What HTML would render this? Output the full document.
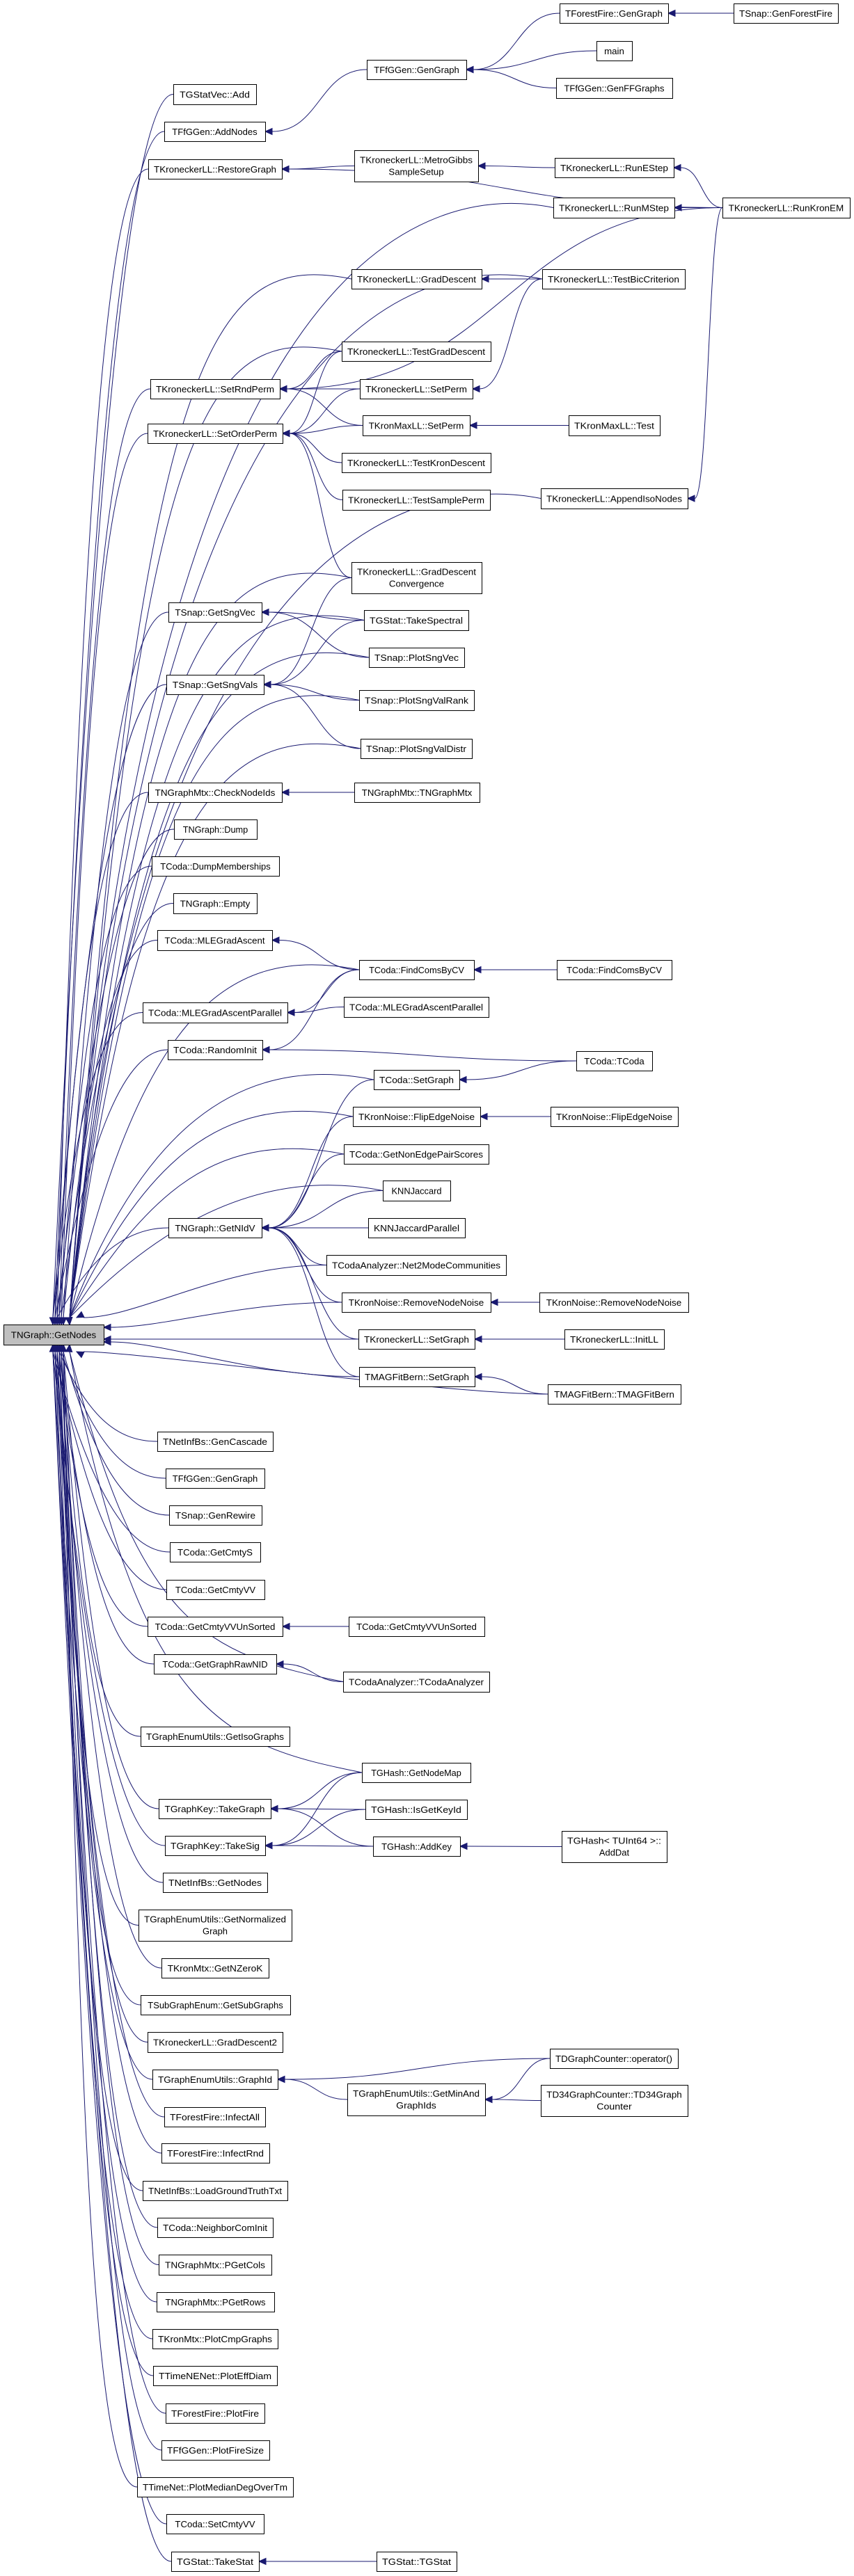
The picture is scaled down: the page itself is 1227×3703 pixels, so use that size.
<!DOCTYPE html>
<html><head><meta charset="utf-8"><style>
html,body{margin:0;padding:0;background:#fff;}
svg{display:block;}
text{font-family:"Liberation Sans",Arial,sans-serif;font-size:13px;fill:#000;}
</style></head><body>
<svg id="g" width="1227" height="3703" viewBox="0 0 1227 3703" xmlns="http://www.w3.org/2000/svg"></svg>
<script>
var B={
GN:[5,1904,149,1933,"TNGraph::GetNodes"],
FFGG:[804,5,960,33,"TForestFire::GenGraph"],
SGFF:[1054,5,1204,33,"TSnap::GenForestFire"],
MAIN:[857,59,908,87,"main"],
FGG:[527,86,670,114,"TFfGGen::GenGraph"],
GFF:[799,112,966,141,"TFfGGen::GenFFGraphs"],
ADD:[249,121,368,150,"TGStatVec::Add"],
ADN:[236,175,381,203,"TFfGGen::AddNodes"],
RG:[213,229,405,257,"TKroneckerLL::RestoreGraph"],
MG:[509,216,687,261,"TKroneckerLL::MetroGibbs|SampleSetup"],
RE:[797,227,968,255,"TKroneckerLL::RunEStep"],
RM:[795,284,969,313,"TKroneckerLL::RunMStep"],
RK:[1038,284,1221,313,"TKroneckerLL::RunKronEM"],
GD:[505,387,692,415,"TKroneckerLL::GradDescent"],
TBC:[779,387,984,415,"TKroneckerLL::TestBicCriterion"],
TGD:[491,491,705,519,"TKroneckerLL::TestGradDescent"],
SRP:[216,545,402,573,"TKroneckerLL::SetRndPerm"],
SP:[517,545,679,573,"TKroneckerLL::SetPerm"],
KSP:[521,597,675,626,"TKronMaxLL::SetPerm"],
KT:[817,597,948,626,"TKronMaxLL::Test"],
SOP:[212,609,406,637,"TKroneckerLL::SetOrderPerm"],
TKD:[491,651,705,679,"TKroneckerLL::TestKronDescent"],
TSP:[492,704,704,733,"TKroneckerLL::TestSamplePerm"],
AIN:[777,702,988,731,"TKroneckerLL::AppendIsoNodes"],
GDC:[505,808,692,853,"TKroneckerLL::GradDescent|Convergence"],
GSV:[242,866,376,894,"TSnap::GetSngVec"],
TS:[523,877,673,906,"TGStat::TakeSpectral"],
PSV:[530,931,667,959,"TSnap::PlotSngVec"],
GSVA:[239,970,379,998,"TSnap::GetSngVals"],
PSR:[516,992,681,1021,"TSnap::PlotSngValRank"],
PSD:[518,1062,678,1090,"TSnap::PlotSngValDistr"],
CNI:[213,1125,405,1153,"TNGraphMtx::CheckNodeIds"],
TGM:[509,1125,689,1153,"TNGraphMtx::TNGraphMtx"],
DMP:[250,1178,369,1206,"TNGraph::Dump"],
DM:[218,1231,401,1259,"TCoda::DumpMemberships"],
EMP:[249,1284,369,1313,"TNGraph::Empty"],
MLE:[226,1337,391,1366,"TCoda::MLEGradAscent"],
FC:[516,1380,681,1408,"TCoda::FindComsByCV"],
FC2:[800,1380,965,1408,"TCoda::FindComsByCV"],
MLP:[205,1441,413,1470,"TCoda::MLEGradAscentParallel"],
MLP2:[494,1433,702,1462,"TCoda::MLEGradAscentParallel"],
RI:[241,1495,377,1523,"TCoda::RandomInit"],
TC:[828,1511,937,1539,"TCoda::TCoda"],
CSG:[537,1538,660,1566,"TCoda::SetGraph"],
FEN:[507,1591,690,1619,"TKronNoise::FlipEdgeNoise"],
FEN2:[791,1591,974,1619,"TKronNoise::FlipEdgeNoise"],
NEP:[494,1645,702,1673,"TCoda::GetNonEdgePairScores"],
KNN:[550,1697,647,1726,"KNNJaccard"],
NIV:[242,1751,376,1779,"TNGraph::GetNIdV"],
KNP:[529,1751,668,1779,"KNNJaccardParallel"],
N2M:[469,1804,727,1833,"TCodaAnalyzer::Net2ModeCommunities"],
RNN:[491,1858,705,1886,"TKronNoise::RemoveNodeNoise"],
RNN2:[775,1858,989,1886,"TKronNoise::RemoveNodeNoise"],
KSG:[515,1911,682,1939,"TKroneckerLL::SetGraph"],
ILL:[811,1911,954,1939,"TKroneckerLL::InitLL"],
MSG:[516,1965,682,1993,"TMAGFitBern::SetGraph"],
MFB:[787,1990,978,2018,"TMAGFitBern::TMAGFitBern"],
GC:[226,2058,392,2086,"TNetInfBs::GenCascade"],
FGG2:[238,2111,380,2139,"TFfGGen::GenGraph"],
GR:[243,2164,376,2192,"TSnap::GenRewire"],
GCS:[244,2217,374,2245,"TCoda::GetCmtyS"],
GCV:[239,2271,380,2299,"TCoda::GetCmtyVV"],
GVU:[212,2324,406,2352,"TCoda::GetCmtyVVUnSorted"],
GVU2:[501,2324,696,2352,"TCoda::GetCmtyVVUnSorted"],
GRN:[221,2378,397,2406,"TCoda::GetGraphRawNID"],
TCA:[493,2403,703,2432,"TCodaAnalyzer::TCodaAnalyzer"],
GIG:[202,2482,416,2510,"TGraphEnumUtils::GetIsoGraphs"],
GNM:[520,2534,676,2562,"TGHash::GetNodeMap"],
TKG:[228,2586,389,2614,"TGraphKey::TakeGraph"],
IGK:[525,2587,671,2615,"TGHash::IsGetKeyId"],
TKS:[237,2639,381,2667,"TGraphKey::TakeSig"],
AK:[536,2640,661,2668,"TGHash::AddKey"],
AD:[807,2632,958,2677,"TGHash< TUInt64 >::|AddDat"],
NGN:[234,2692,384,2720,"TNetInfBs::GetNodes"],
GNG:[199,2745,419,2790,"TGraphEnumUtils::GetNormalized|Graph"],
NZK:[232,2815,386,2843,"TKronMtx::GetNZeroK"],
GSG:[202,2868,417,2896,"TSubGraphEnum::GetSubGraphs"],
GD2:[212,2921,406,2950,"TKroneckerLL::GradDescent2"],
GID:[219,2975,399,3003,"TGraphEnumUtils::GraphId"],
OPR:[790,2945,974,2973,"TDGraphCounter::operator()"],
GMA:[499,2995,697,3041,"TGraphEnumUtils::GetMinAnd|GraphIds"],
TD34:[777,2997,988,3042,"TD34GraphCounter::TD34Graph|Counter"],
IA:[236,3029,381,3057,"TForestFire::InfectAll"],
IR:[232,3081,387,3109,"TForestFire::InfectRnd"],
LGT:[205,3135,413,3163,"TNetInfBs::LoadGroundTruthTxt"],
NCI:[226,3188,392,3216,"TCoda::NeighborComInit"],
PGC:[228,3241,390,3270,"TNGraphMtx::PGetCols"],
PGR:[225,3295,394,3323,"TNGraphMtx::PGetRows"],
PCG:[219,3348,399,3376,"TKronMtx::PlotCmpGraphs"],
PED:[220,3401,398,3429,"TTimeNENet::PlotEffDiam"],
PF:[238,3455,380,3483,"TForestFire::PlotFire"],
PFS:[232,3508,387,3536,"TFfGGen::PlotFireSize"],
PMD:[197,3561,421,3589,"TTimeNet::PlotMedianDegOverTm"],
SCV:[239,3614,379,3642,"TCoda::SetCmtyVV"],
TST:[246,3668,372,3696,"TGStat::TakeStat"],
TGS:[541,3668,656,3696,"TGStat::TGStat"]
};
var E=[["FFGG","FGG"],["SGFF","FFGG"],["MAIN","FGG"],["GFF","FGG"],["FGG","ADN"],["RK","RG"],["MG","RG"],["RE","MG"],["RK","RE"],["RK","RM"],["TBC","GD"],["TBC","SP"],["RK","SRP"],["TGD","SRP"],["SP","SRP"],["KSP","SRP"],["TGD","SOP"],["SP","SOP"],["KSP","SOP"],["TKD","SOP"],["TSP","SOP"],["GDC","SOP"],["KT","KSP"],["RK","AIN"],["TS","GSV"],["PSV","GSV"],["GDC","GSVA"],["TS","GSVA"],["PSR","GSVA"],["PSD","GSVA"],["TGM","CNI"],["FC","MLE"],["FC","MLP"],["FC","RI"],["FC2","FC"],["MLP2","MLP"],["TC","RI"],["TC","CSG"],["CSG","NIV"],["FEN","NIV"],["NEP","NIV"],["KNN","NIV"],["KNP","NIV"],["N2M","NIV"],["RNN","NIV"],["KSG","NIV"],["MSG","NIV"],["FEN2","FEN"],["RNN2","RNN"],["ILL","KSG"],["MFB","MSG"],["GVU2","GVU"],["TCA","GRN"],["GNM","TKG"],["GNM","TKS"],["IGK","TKG"],["IGK","TKS"],["AK","TKG"],["AK","TKS"],["AD","AK"],["OPR","GID"],["GMA","GID"],["OPR","GMA"],["TD34","GMA"],["TGS","TST"]];
var direct=["ADD","ADN","RG","SRP","SOP","GSV","GSVA","CNI","DMP","DM","EMP","MLE","MLP","RI","NIV","GC","FGG2","GR","GCS","GCV","GVU","GRN","GIG","TKG","TKS","NGN","GNG","NZK","GSG","GD2","GID","IA","IR","LGT","NCI","PGC","PGR","PCG","PED","PF","PFS","PMD","SCV","TST"];
var far=["RM","TBC","GD","TGD","GDC","AIN","TS","PSV","PSR","PSD","FC","CSG","FEN","NEP","KNN","TCA","GNM"];
var near=["N2M","RNN","KSG","MSG","MFB"];
var s='',col='#191970';
function arrow(x,y,dx,dy){var l=Math.hypot(dx,dy);dx/=l;dy/=l;var L=10,W=4.5;
 var bx=x-dx*L,by=y-dy*L;
 return '<polygon points="'+x+','+y+' '+(bx-dy*W)+','+(by+dx*W)+' '+(bx+dy*W)+','+(by-dx*W)+'" fill="'+col+'" stroke="'+col+'"/>';}
function path(d){return '<path d="'+d+'" fill="none" stroke="'+col+'" stroke-width="1"/>';}
E.forEach(function(e){var a=B[e[0]],b=B[e[1]];
 var x1=a[0],y1=(a[1]+a[3])/2,x2=b[2]+10,y2=(b[1]+b[3])/2;
 var m=(x1+x2)/2;
 s+=path('M'+x1+','+y1+' C'+m+','+y1+' '+m+','+y2+' '+x2+','+y2);
 s+=arrow(x2-10,y2,-1,0);
});
var i=0;
direct.forEach(function(k){var a=B[k],xl=a[0],ym=(a[1]+a[3])/2;
 var top=ym<1904;var tx=76+(i%6)*3;i++;var ty=top?1904:1933;var ey=top?ty-10:ty+10;
 var c2y=top?ym+0.3*(ey-ym):ym-0.3*(ym-ey);
 s+=path('M'+xl+','+ym+' C'+(xl-60)+','+ym+' '+(tx+ (xl-60-tx)*0.5)+','+c2y+' '+tx+','+ey);
 s+=arrow(tx,ty,0,top?1:-1);
});
far.forEach(function(k){var a=B[k],xl=a[0],ym=(a[1]+a[3])/2;
 var top=ym<1904;var tx=top?100:100,ty=top?1904:1933,ey=top?ty-10:ty+10;
 s+=path('M'+xl+','+ym+' C'+(xl-200)+','+(ym-40)+' 200,'+(ym+(top?80:-80))+' '+tx+','+ey);
 s+=arrow(tx,ty,(tx-190)/ -300*0.3,top?1:-1);
});
near.forEach(function(k){var a=B[k],xl=a[0],ym=(a[1]+a[3])/2;
 var tx=159,ty=Math.max(1908,Math.min(1929,ym));
 if(k=="N2M"){tx=120;ty=1894;} if(k=="MFB"){tx=120;ty=1943;}
 s+=path('M'+xl+','+ym+' C'+(xl-150)+','+ym+' '+(tx+80)+','+ty+' '+tx+','+ty);
 s+=arrow(tx-10,ty,-1,(k=="N2M"?0.5:(k=="MFB"?-0.5:0)));
});
for(var k in B){var b=B[k],w=b[2]-b[0],h=b[3]-b[1];
 s+='<rect x="'+(b[0]+0.5)+'" y="'+(b[1]+0.5)+'" width="'+w+'" height="'+h+'" fill="'+(k=="GN"?'#bfbfbf':'#fff')+'" stroke="#000" stroke-width="1"/>';
 var lines=b[4].split('|'),cx=(b[0]+b[2])/2;
 lines.forEach(function(t,j){var y=lines.length==1?(b[1]+b[3])/2+5:b[1]+h/2+(j==0?-4:13);
  var tl=Math.min(w-16,t.length*7.2);
  var esc=t.replace(/&/g,'&amp;').replace(/</g,'&lt;').replace(/>/g,'&gt;');
  s+='<text x="'+cx+'" y="'+y+'" text-anchor="middle" textLength="'+tl+'" lengthAdjust="spacingAndGlyphs">'+esc+'</text>';});
}
document.getElementById('g').innerHTML=s;
</script>
</body></html>
